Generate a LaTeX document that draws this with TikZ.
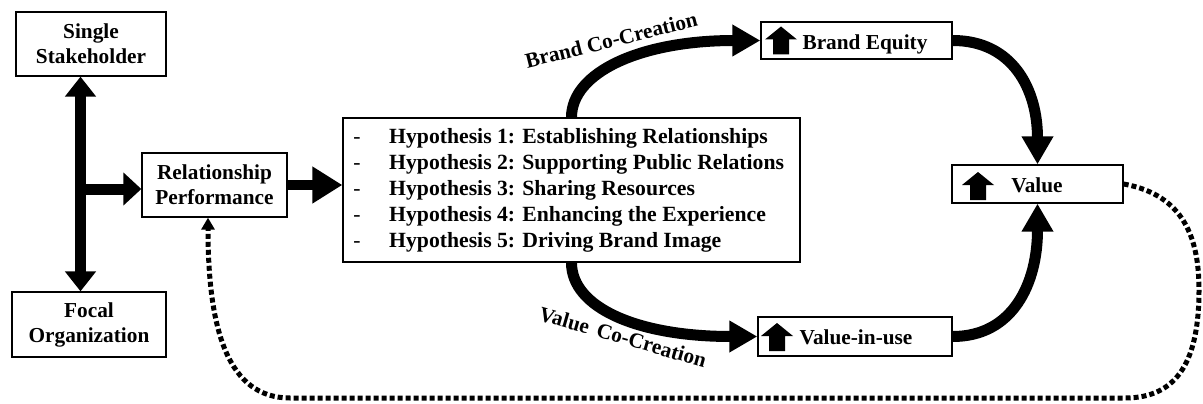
\documentclass[tikz,border=0pt]{standalone}
\usepackage{fontspec}
\setmainfont{Liberation Serif}
\usetikzlibrary{arrows.meta}
\tikzset{
  box/.style={draw,line width=1.3pt,inner sep=0pt,align=center,
    font=\fontsize{21.3}{25}\selectfont\bfseries},
  lbl/.style={inner sep=0pt,font=\fontsize{21.3}{25}\selectfont\bfseries},
  hyptext/.style={inner sep=0pt,font=\fontsize{21.7}{26}\selectfont\bfseries},
  bigarrow/.style={line width=11pt,-{Triangle[width=30pt,length=28pt]}},
  dotline/.style={line width=5pt,dash pattern=on 5pt off 3pt},
  upicon/.pic={\fill (0,-14) -- (16,-1) -- (8,-1) -- (8,14) -- (-8,14) -- (-8,-1) -- (-16,-1) -- cycle;}
}
\begin{document}
\begin{tikzpicture}[x=1pt,y=-1pt]
\useasboundingbox (0,0) rectangle (1203,404);

% boxes
\node[box,minimum width=150pt,minimum height=64pt] (ss) at (91,44) {Single\\Stakeholder};
\node[box,minimum width=154pt,minimum height=65pt] (fo) at (89,324.5) {Focal\\Organization};
\node[box,minimum width=145pt,minimum height=64pt] (rp) at (214.5,185) {Relationship\\Performance};
\node[box,minimum width=457pt,minimum height=144pt] (hyp) at (571.5,190) {};
\node[box,minimum width=191pt,minimum height=37pt] (be) at (856.5,40.5) {};
\node[box,minimum width=171pt,minimum height=38pt] (val) at (1037.5,184) {};
\node[box,minimum width=194pt,minimum height=39pt] (viu) at (855,336.5) {};

% hypothesis list
\foreach \i/\t in {1/Establishing Relationships,2/Supporting Public Relations,
  3/Sharing Resources,4/Enhancing the Experience,5/Driving Brand Image}{
  \node[hyptext,anchor=base,font=\fontsize{21.7}{26}\selectfont] (d\i) at (357,{143+26*(\i-1)}) {-};
  \node[hyptext,anchor=base west] (h\i) at (389,{143+26*(\i-1)}) {Hypothesis \i: \t};
}

% outcome labels with up-arrow icons
\pic at (781,40.5) {upicon};
\node[lbl,anchor=base] (bet) at (865,50) {Brand Equity};
\pic at (777,337) {upicon};
\node[lbl,anchor=base] (viut) at (856,344) {Value-in-use};
\pic at (978,186) {upicon};
\node[lbl,anchor=base] (valt) at (1037,192) {Value};

% stakeholder links
\coordinate (vx) at (80.5,0);
\coordinate (br) at (78,189);
\draw[line width=11pt,{Triangle[width=30pt,length=20pt]}-{Triangle[width=30pt,length=20pt]}]
  (vx |- ss.south) -- (vx |- fo.north);
\draw[line width=11pt,-{Triangle[width=32pt,length=18pt]}] (br) -- (br -| rp.west);
\draw[line width=10pt,-{Triangle[width=35pt,length=30pt]}] (rp.east) -- (rp.east -| hyp.west);

% co-creation paths
\draw[bigarrow] (hyp.north) .. controls +(0,-45) and +(-120,0) .. (be.west);
\draw[bigarrow] (hyp.south) .. controls +(0,45) and +(-120,0) .. (viu.west);
\node[lbl,anchor=base,rotate=14] (bcl) at (613,47) {Brand Co-Creation};
\node[lbl,anchor=base,rotate=-16] (vcl) at (621,344) {Value\hspace{3pt} Co-Creation};

% towards value
\draw[bigarrow] (be.east) .. controls +(60,0) and +(0,-75) .. (val.north);
\draw[bigarrow] (viu.east) .. controls +(60,0) and +(0,80) .. (val.south);

% feedback loop
\coordinate (fb) at ([xshift=-6.5pt]rp.south);
\draw[dotline,-{Triangle[width=13pt,length=12pt]}]
  (val.east) .. controls (1185,195) and (1199,240) .. (1199,290)
  .. controls (1199,360) and (1178,398) .. (1125,398) -- (290,398)
  .. controls (228,398) and (208,330) .. (fb);
\end{tikzpicture}
\end{document}
